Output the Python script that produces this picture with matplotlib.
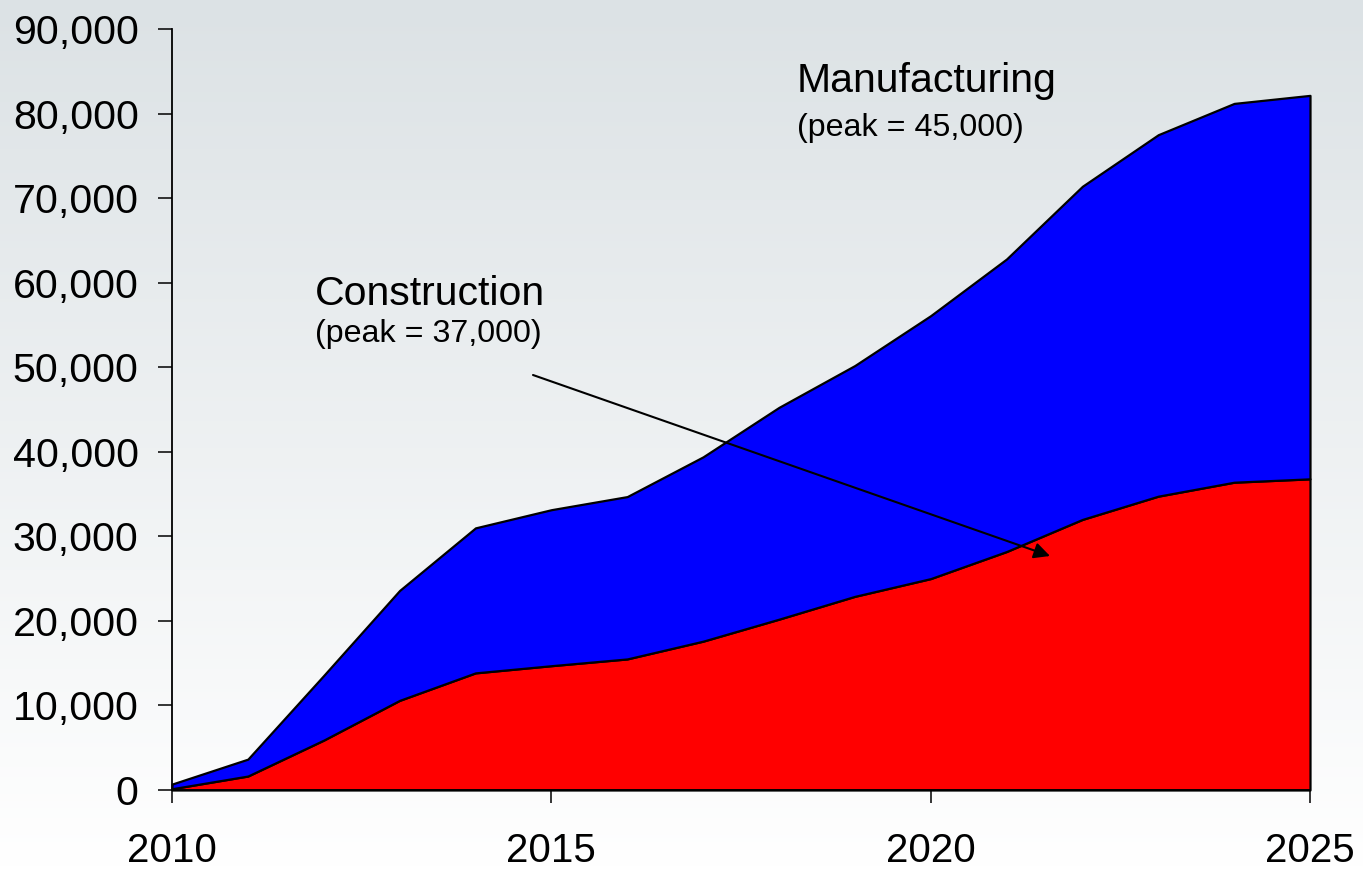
import numpy as np
import matplotlib
matplotlib.use("Agg")
import matplotlib.pyplot as plt
from matplotlib.ticker import FuncFormatter

plt.rcParams['font.family'] = ['Liberation Sans', 'DejaVu Sans']

# Cumulative jobs by sector
years = list(range(2010, 2026))
construction = [150, 1650, 5900, 10600, 13850, 14700, 15500, 17600,
                20200, 22900, 25000, 28200, 32000, 34750, 36400, 36800]
manufacturing = [550, 2000, 7650, 13000, 17150, 18450, 19200, 21800,
                 25050, 27300, 31100, 34600, 39400, 42750, 44800, 45350]
series_labels = ["Construction", "Manufacturing"]
peak_labels = ["(peak = 37,000)", "(peak = 45,000)"]
x_ticks = [2010, 2015, 2020, 2025]
y_ticks = list(range(0, 90001, 10000))

W, H, DPI = 1363, 869, 100
fig = plt.figure(figsize=(W / DPI, H / DPI), dpi=DPI)

# Soft vertical gradient behind everything
bg = fig.add_axes([0, 0, 1, 1], zorder=-10)
top_rgb = np.array([220, 226, 229]) / 255.0
bot_rgb = np.array([255, 255, 255]) / 255.0
t = np.linspace(0, 1, 256)[:, None]
grad = top_rgb[None, :] * (1 - t) + bot_rgb[None, :] * t
bg.imshow(grad[:, None, :].repeat(2, axis=1), aspect='auto',
          extent=[0, 1, 0, 1], origin='upper')
bg.set_axis_off()

ax = fig.add_axes([172 / W, 1 - 790 / H, (1310 - 172) / W, (790 - 29) / H])
ax.patch.set_alpha(0)

polys = ax.stackplot(years, construction, manufacturing,
                     colors=["#ff0000", "#0000ff"],
                     edgecolor="black", linewidth=1.6)
for p in polys:
    p.set_clip_on(False)

ax.set_xlim(2010, 2025)
ax.set_ylim(0, 90000)
ax.set_xticks(x_ticks)
ax.set_yticks(y_ticks)
ax.yaxis.set_major_formatter(FuncFormatter(lambda v, _: f"{int(v):,}"))

for side in ("top", "right"):
    ax.spines[side].set_visible(False)
for side in ("left", "bottom"):
    ax.spines[side].set_linewidth(1.3)
    ax.spines[side].set_zorder(5)

ax.tick_params(axis='y', direction='out', length=10, width=1.1,
               pad=14, labelsize=29.6)
ax.tick_params(axis='x', direction='out', length=9, width=1.1,
               pad=21, labelsize=29)


def data_x(px):
    return 2010 + (px - 172) / (1310 - 172) * 15


def data_y(py):
    return (790 - py) / (790 - 29) * 90000


# Series labels with their peaks
ax.text(data_x(315), data_y(305), series_labels[0], fontsize=29.5,
        ha='left', va='baseline')
ax.text(data_x(315), data_y(342), peak_labels[0], fontsize=23.2,
        ha='left', va='baseline')
ax.text(data_x(797), data_y(92), series_labels[1], fontsize=29.5,
        ha='left', va='baseline')
ax.text(data_x(797), data_y(136), peak_labels[1], fontsize=23.2,
        ha='left', va='baseline')

ax.annotate("", xy=(data_x(1050), data_y(556)),
            xytext=(data_x(533), data_y(375)),
            arrowprops=dict(arrowstyle="-|>", color="black", lw=1.5,
                            mutation_scale=24, shrinkA=0, shrinkB=0))

fig.savefig("out.png", dpi=DPI)
